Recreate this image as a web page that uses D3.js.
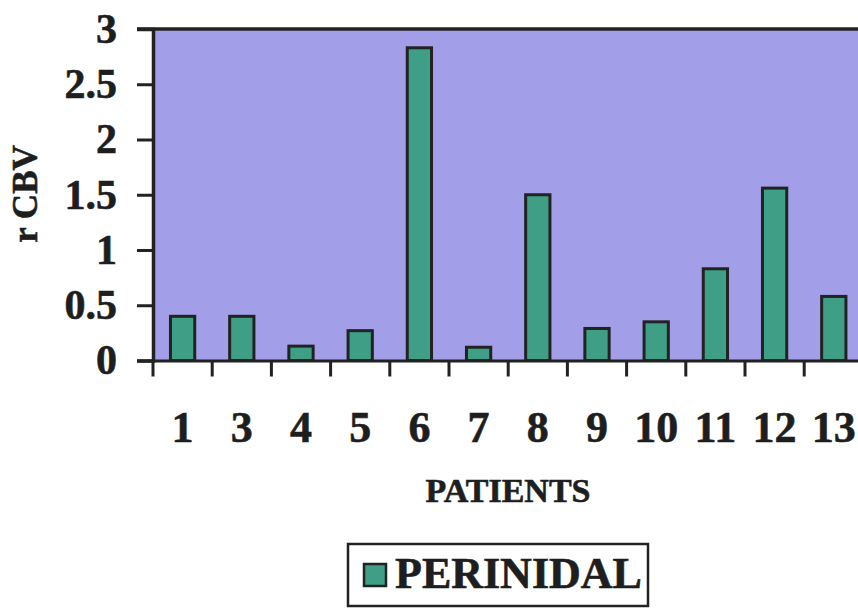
<!DOCTYPE html>
<html>
<head>
<meta charset="utf-8">
<script src="https://cdn.jsdelivr.net/npm/d3@7"></script>
<style>
  html, body { margin: 0; padding: 0; background: #ffffff; }
  svg { display: block; }
  text { font-family: "Liberation Serif", "Times New Roman", serif; font-weight: bold; fill: #1e1e1e; stroke: #1e1e1e; stroke-width: 0.6px; }
</style>
</head>
<body>
<svg id="chart" width="858" height="608"></svg>
<script>
// Relative cerebral blood volume per patient
const patients = ["1", "3", "4", "5", "6", "7", "8", "9", "10", "11", "12", "13"];
const rcbv = [0.40, 0.40, 0.13, 0.27, 2.83, 0.12, 1.50, 0.29, 0.35, 0.83, 1.56, 0.58];
const yTicks = [0, 0.5, 1, 1.5, 2, 2.5, 3];
const seriesName = "PERINIDAL";

const svg = d3.select("#chart");
const plotLeft = 153, plotRight = 863.4, plotTop = 29, plotBottom = 360.5;
const ink = "#222222";
const barFill = "#3f9f86";
const plotFill = "#a29fe8";

const x = d3.scaleBand().domain(patients).range([plotLeft, plotRight])
  .paddingInner(0.59).paddingOuter(0.295);
const y = d3.scaleLinear().domain([0, 3]).range([plotBottom, plotTop]);

// plot background
svg.append("rect")
  .attr("x", plotLeft).attr("y", plotTop)
  .attr("width", plotRight - plotLeft).attr("height", plotBottom - plotTop)
  .attr("fill", plotFill);

// bars
svg.append("g").selectAll("rect")
  .data(patients.map((p, i) => ({ p, v: rcbv[i] })))
  .join("rect")
  .attr("x", d => x(d.p))
  .attr("y", d => y(d.v))
  .attr("width", x.bandwidth())
  .attr("height", d => y(0) - y(d.v))
  .attr("fill", barFill)
  .attr("stroke", ink)
  .attr("stroke-width", 3);

// top border of plot
svg.append("line")
  .attr("x1", plotLeft - 16).attr("x2", plotRight)
  .attr("y1", plotTop).attr("y2", plotTop)
  .attr("stroke", ink).attr("stroke-width", 3.5);

// y axis
const yAxis = svg.append("g")
  .attr("transform", `translate(${plotLeft},0)`)
  .call(d3.axisLeft(y).tickValues(yTicks).tickSize(16).tickPadding(20).tickFormat(d => String(d)));
yAxis.select(".domain").attr("stroke", ink).attr("stroke-width", 3.5);
yAxis.selectAll(".tick line").attr("stroke", ink).attr("stroke-width", 3);
yAxis.selectAll(".tick text")
  .attr("font-family", "Liberation Serif, Times New Roman, serif")
  .attr("font-weight", "bold").attr("font-size", 42).attr("fill", "#1e1e1e");

// x axis: labels centred under bars, ticks on category boundaries
const xAxis = svg.append("g")
  .attr("transform", `translate(0,${plotBottom})`)
  .call(d3.axisBottom(x).tickSize(0).tickPadding(0));
xAxis.select(".domain").attr("stroke", ink).attr("stroke-width", 3);
xAxis.selectAll(".tick text")
  .attr("y", 81).attr("dy", 0)
  .attr("font-family", "Liberation Serif, Times New Roman, serif")
  .attr("font-weight", "bold").attr("font-size", 44).attr("fill", "#1e1e1e");
const bounds = d3.range(patients.length + 1).map(k => x.range()[0] + k * x.step());
svg.append("g").selectAll("line").data(bounds).join("line")
  .attr("x1", d => d).attr("x2", d => d)
  .attr("y1", plotBottom).attr("y2", plotBottom + 16)
  .attr("stroke", ink).attr("stroke-width", 3);

// axis titles
svg.append("text")
  .attr("x", 508).attr("y", 502)
  .attr("text-anchor", "middle").attr("font-size", 34)
  .text("PATIENTS");
svg.append("text")
  .attr("transform", "translate(37,194) rotate(-90)")
  .attr("text-anchor", "middle").attr("font-size", 35)
  .text("r CBV");

// legend
const lg = svg.append("g");
lg.append("rect")
  .attr("x", 348).attr("y", 544).attr("width", 300).attr("height", 62)
  .attr("fill", "none").attr("stroke", ink).attr("stroke-width", 2.5);
lg.append("rect")
  .attr("x", 364).attr("y", 564).attr("width", 22).attr("height", 22)
  .attr("fill", barFill).attr("stroke", ink).attr("stroke-width", 2.5);
lg.append("text")
  .attr("x", 395).attr("y", 588).attr("font-size", 44)
  .text(seriesName);
</script>
</body>
</html>
